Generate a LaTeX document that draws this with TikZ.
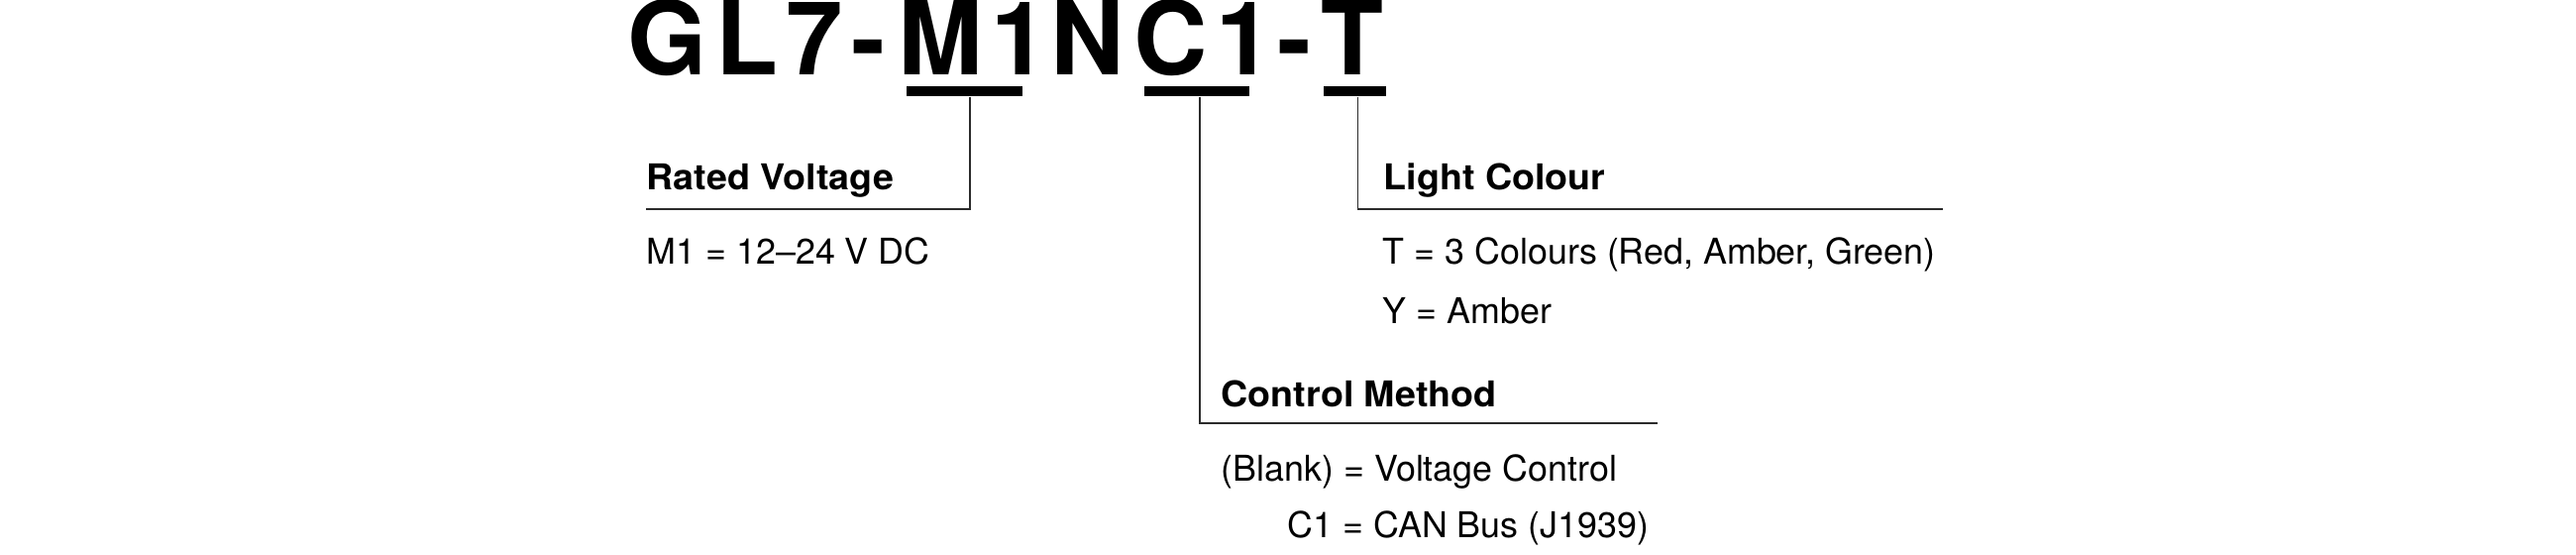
\documentclass[tikz,border=0pt]{standalone}
\usepackage{fontspec}
\setmainfont{TeX Gyre Heros}
\newfontfamily\codefont[LetterSpace=8.5]{TeX Gyre Heros}
\newfontfamily\headfont[FakeStretch=1.05]{TeX Gyre Heros}
\usepackage{tikz}
\definecolor{ruleclr}{HTML}{2b2b2b}

\begin{document}
\begin{tikzpicture}[x=0.1mm, y=-0.1mm, code/.style={inner sep=0pt, anchor=base west, font=\codefont\bfseries\fontsize{29.3}{32}\selectfont},bar/.style={fill=black, inner sep=0pt, minimum height=1mm},head/.style={inner sep=0pt, anchor=base west, font=\headfont\bfseries\fontsize{10.2}{12}\selectfont},val/.style={inner sep=0pt, anchor=base west, font=\fontsize{10.2}{12}\selectfont},link/.style={draw=ruleclr, line width=0.5pt}]
\useasboundingbox (0,0) rectangle (2600,560);
% model code
\node[code] (pfx) at (632.5,76) {GL7-};
\node[code] (mpart) at (905.5,76) {M1};
\node[code] (npart) at (1060,76) {N};
\node[code] (cpart) at (1143.5,76) {C1};
\node[code] (dash) at (1289,76) {-};
\node[code] (tpart) at (1333,76) {T};
\node[bar, minimum width=11.7mm] (mbar) at (973.5,92) {};
\node[bar, minimum width=10.6mm] (cbar) at (1208,92) {};
\node[bar, minimum width=6.3mm] (tbar) at (1367.5,92) {};
% rated voltage
\node[head] (rvhead) at (652,192) {Rated Voltage};
\coordinate (rvend) at (652,211);
\node[val] (rvm1) at (652,267) {M1 = 12–24 V DC};
% light colour
\node[head] (lchead) at (1396,192) {Light Colour};
\coordinate (lcend) at (1961,211);
\node[val] (lct) at (1395,267) {T = 3 Colours (Red, Amber, Green)};
\node[val] (lcy) at (1395,327) {Y = Amber};
% control method
\node[head] (cmhead) at (1232,411) {Control Method};
\coordinate (cmend) at (1673,427);
\node[val] (cmblank) at (1232,486) {(Blank) = Voltage Control};
\node[val] (cmc1) at (1299,543) {C1 = CAN Bus (J1939)};
\draw[link] ([xshift=0.55mm]mbar.south) |- (rvend);
\draw[link] ([xshift=0.3mm]tbar.south) |- (lcend);
\draw[link] ([xshift=0.3mm]cbar.south) |- (cmend);
\end{tikzpicture}
\end{document}
